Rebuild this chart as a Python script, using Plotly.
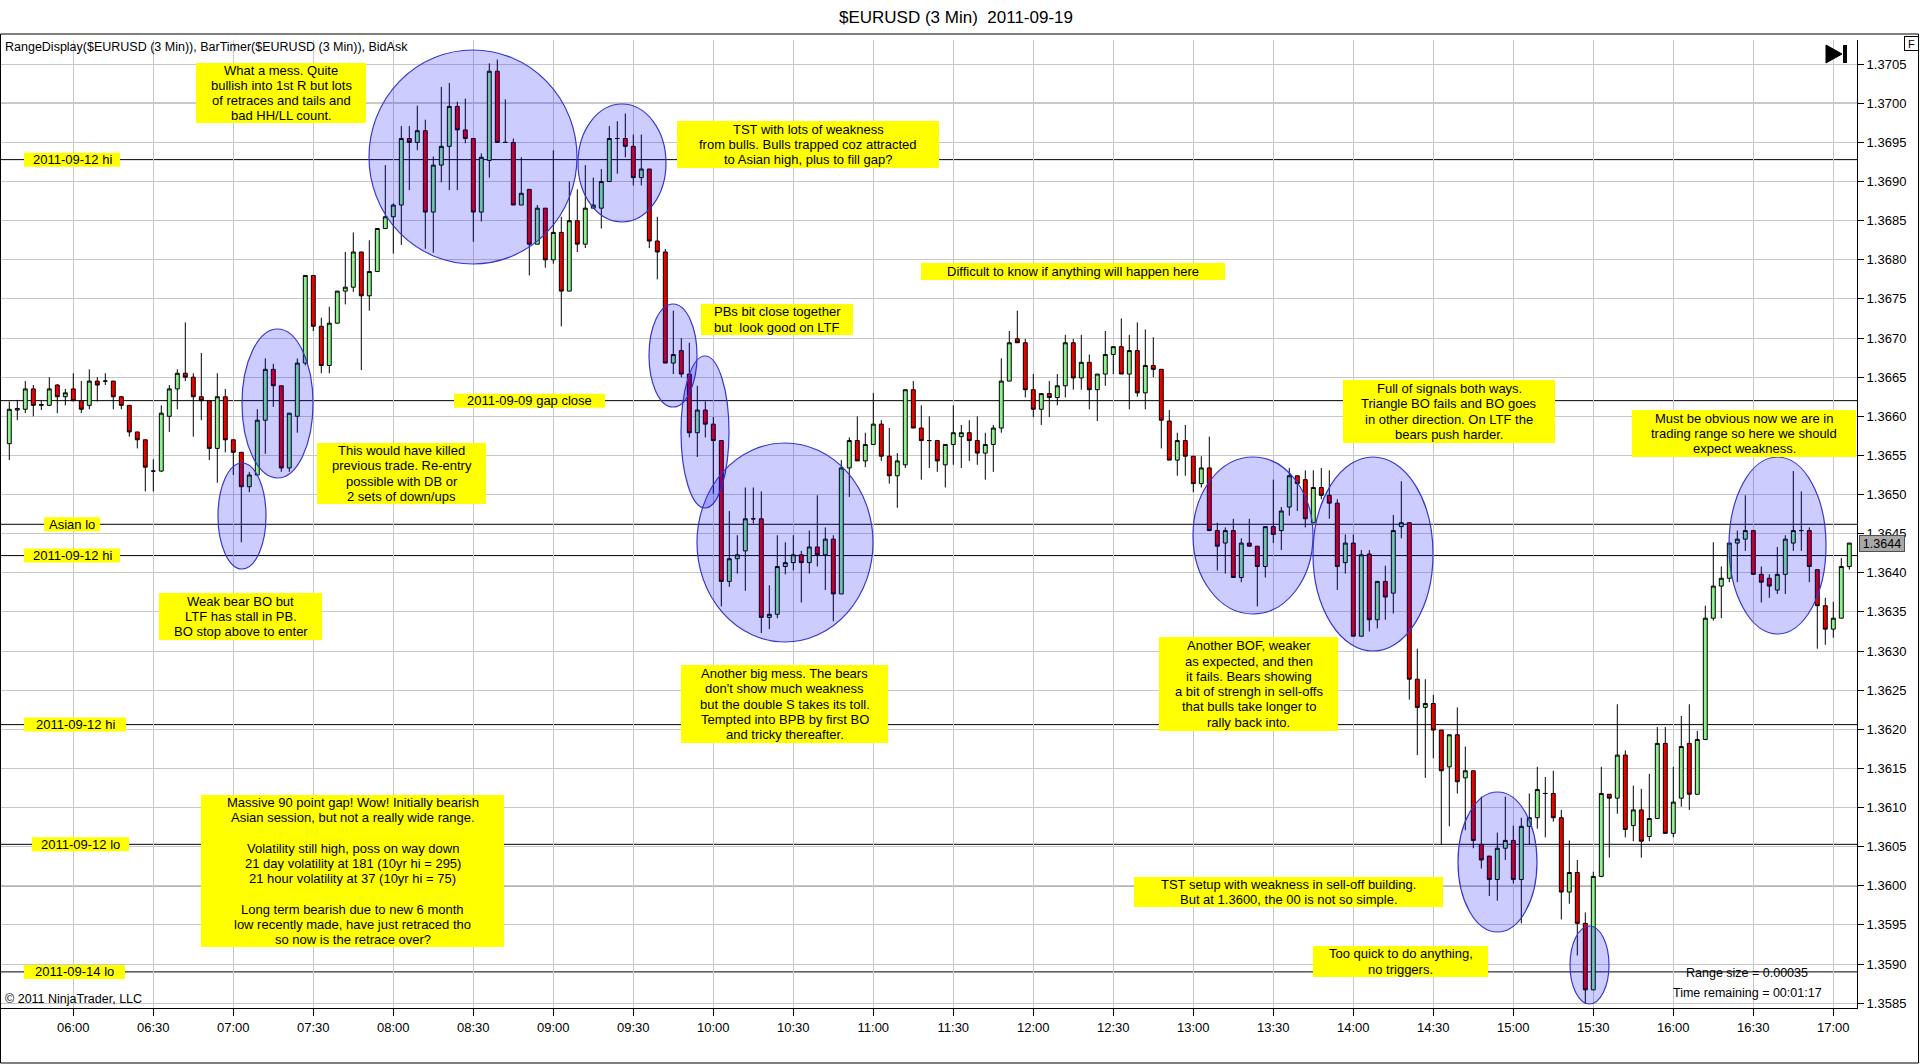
import pandas as pd
import plotly.graph_objects as go

# --- bar data, 3 min EURUSD (oldest first) ---
open_ = [
    1.36565, 1.36608, 1.36609, 1.36635, 1.36614, 1.36614, 1.36640, 1.36625, 1.36635, 1.36620,
    1.36614, 1.36645, 1.36645, 1.36645, 1.36625, 1.36614, 1.36580, 1.36570, 1.36530, 1.36530,
    1.36600, 1.36635, 1.36655, 1.36650, 1.36625, 1.36620, 1.36559, 1.36625, 1.36570, 1.36554,
    1.36510, 1.36525, 1.36595, 1.36660, 1.36639, 1.36534, 1.36600, 1.36668, 1.36780, 1.36715,
    1.36665, 1.36719, 1.36760, 1.36765, 1.36810, 1.36754, 1.36785, 1.36840, 1.36855, 1.36870,
    1.36955, 1.36950, 1.36965, 1.36861, 1.36921, 1.36945, 1.36996, 1.36966, 1.36955, 1.36861,
    1.36927, 1.37041, 1.36950, 1.36950, 1.36870, 1.36890, 1.36820, 1.36866, 1.36800, 1.36835,
    1.36760, 1.36850, 1.36820, 1.36866, 1.36866, 1.36900, 1.36955, 1.36955, 1.36945, 1.36905,
    1.36916, 1.36824, 1.36810, 1.36668, 1.36684, 1.36654, 1.36579, 1.36608, 1.36590, 1.36569,
    1.36389, 1.36418, 1.36428, 1.36469, 1.36469, 1.36343, 1.36347, 1.36408, 1.36413, 1.36423,
    1.36413, 1.36433, 1.36423, 1.36443, 1.36373, 1.36534, 1.36569, 1.36543, 1.36564, 1.36590,
    1.36549, 1.36524, 1.36538, 1.36634, 1.36585, 1.36569, 1.36569, 1.36538, 1.36564, 1.36574,
    1.36579, 1.36569, 1.36553, 1.36564, 1.36585, 1.36645, 1.36699, 1.36694, 1.36634, 1.36609,
    1.36629, 1.36624, 1.36639, 1.36694, 1.36649, 1.36669, 1.36634, 1.36654, 1.36679, 1.36689,
    1.36654, 1.36684, 1.36630, 1.36665, 1.36660, 1.36594, 1.36544, 1.36569, 1.36549, 1.36514,
    1.36534, 1.36454, 1.36438, 1.36454, 1.36394, 1.36438, 1.36434, 1.36408, 1.36459, 1.36454,
    1.36484, 1.36524, 1.36519, 1.36464, 1.36509, 1.36499, 1.36489, 1.36413, 1.36438, 1.36319,
    1.36424, 1.36340, 1.36389, 1.36374, 1.36459, 1.36464, 1.36264, 1.36228, 1.36233, 1.36199,
    1.36152, 1.36193, 1.36138, 1.36147, 1.36053, 1.36038, 1.36008, 1.36048, 1.36058, 1.36008,
    1.36076, 1.36087, 1.36118, 1.36118, 1.36087, 1.35992, 1.36017, 1.35952, 1.35867, 1.36012,
    1.36117, 1.36112, 1.36167, 1.36077, 1.36097, 1.36063, 1.36086, 1.36182, 1.36067, 1.36112,
    1.36182, 1.36117, 1.36187, 1.36342, 1.36383, 1.36393, 1.36438, 1.36443, 1.36454, 1.36398,
    1.36393, 1.36378, 1.36398, 1.36438, 1.36454, 1.36454, 1.36404, 1.36358, 1.36328, 1.36342,
    1.36408,
]
high_ = [
    1.36619, 1.36621, 1.36645, 1.36640, 1.36621, 1.36650, 1.36641, 1.36635, 1.36655, 1.36645,
    1.36660, 1.36650, 1.36655, 1.36645, 1.36626, 1.36614, 1.36580, 1.36570, 1.36545, 1.36614,
    1.36640, 1.36660, 1.36720, 1.36655, 1.36681, 1.36621, 1.36655, 1.36635, 1.36570, 1.36554,
    1.36529, 1.36609, 1.36674, 1.36667, 1.36639, 1.36604, 1.36674, 1.36780, 1.36780, 1.36726,
    1.36740, 1.36760, 1.36810, 1.36835, 1.36810, 1.36825, 1.36840, 1.36921, 1.36872, 1.36971,
    1.36971, 1.36997, 1.36979, 1.36932, 1.37021, 1.37026, 1.37002, 1.37006, 1.36955, 1.36936,
    1.37051, 1.37056, 1.37005, 1.36955, 1.36931, 1.36890, 1.36870, 1.36866, 1.36940, 1.36855,
    1.36900, 1.36890, 1.36921, 1.36905, 1.36916, 1.36971, 1.36977, 1.36987, 1.36960, 1.36960,
    1.36916, 1.36855, 1.36814, 1.36735, 1.36700, 1.36694, 1.36639, 1.36619, 1.36599, 1.36569,
    1.36479, 1.36448, 1.36509, 1.36509, 1.36504, 1.36384, 1.36448, 1.36439, 1.36448, 1.36428,
    1.36454, 1.36499, 1.36458, 1.36448, 1.36544, 1.36573, 1.36600, 1.36579, 1.36630, 1.36595,
    1.36585, 1.36553, 1.36634, 1.36645, 1.36614, 1.36600, 1.36569, 1.36564, 1.36614, 1.36589,
    1.36595, 1.36600, 1.36579, 1.36589, 1.36674, 1.36709, 1.36735, 1.36699, 1.36654, 1.36629,
    1.36645, 1.36654, 1.36704, 1.36699, 1.36704, 1.36679, 1.36654, 1.36709, 1.36689, 1.36725,
    1.36704, 1.36720, 1.36711, 1.36701, 1.36660, 1.36608, 1.36579, 1.36589, 1.36549, 1.36549,
    1.36574, 1.36464, 1.36458, 1.36469, 1.36444, 1.36469, 1.36434, 1.36459, 1.36519, 1.36484,
    1.36534, 1.36524, 1.36531, 1.36531, 1.36534, 1.36531, 1.36494, 1.36449, 1.36449, 1.36429,
    1.36429, 1.36389, 1.36409, 1.36474, 1.36517, 1.36464, 1.36303, 1.36264, 1.36244, 1.36199,
    1.36193, 1.36228, 1.36178, 1.36147, 1.36114, 1.36038, 1.36068, 1.36114, 1.36077, 1.36087,
    1.36118, 1.36152, 1.36139, 1.36147, 1.36097, 1.36058, 1.36033, 1.35966, 1.36018, 1.36152,
    1.36117, 1.36232, 1.36173, 1.36128, 1.36124, 1.36143, 1.36203, 1.36203, 1.36152, 1.36217,
    1.36232, 1.36198, 1.36358, 1.36439, 1.36408, 1.36438, 1.36454, 1.36499, 1.36454, 1.36408,
    1.36398, 1.36433, 1.36448, 1.36530, 1.36504, 1.36458, 1.36404, 1.36368, 1.36363, 1.36419,
    1.36438,
]
low_ = [
    1.36544, 1.36595, 1.36604, 1.36600, 1.36608, 1.36614, 1.36604, 1.36614, 1.36619, 1.36604,
    1.36609, 1.36619, 1.36640, 1.36609, 1.36609, 1.36574, 1.36559, 1.36504, 1.36504, 1.36529,
    1.36580, 1.36609, 1.36645, 1.36574, 1.36595, 1.36544, 1.36515, 1.36554, 1.36525, 1.36439,
    1.36503, 1.36524, 1.36552, 1.36612, 1.36529, 1.36529, 1.36579, 1.36665, 1.36709, 1.36655,
    1.36655, 1.36719, 1.36743, 1.36759, 1.36659, 1.36735, 1.36785, 1.36840, 1.36808, 1.36819,
    1.36889, 1.36940, 1.36814, 1.36809, 1.36899, 1.36889, 1.36889, 1.36949, 1.36823, 1.36849,
    1.36905, 1.36950, 1.36950, 1.36870, 1.36870, 1.36780, 1.36820, 1.36790, 1.36795, 1.36715,
    1.36760, 1.36810, 1.36815, 1.36866, 1.36840, 1.36900, 1.36910, 1.36931, 1.36895, 1.36895,
    1.36815, 1.36775, 1.36668, 1.36654, 1.36650, 1.36573, 1.36548, 1.36573, 1.36501, 1.36357,
    1.36382, 1.36399, 1.36377, 1.36463, 1.36323, 1.36328, 1.36342, 1.36398, 1.36403, 1.36362,
    1.36399, 1.36408, 1.36378, 1.36338, 1.36373, 1.36497, 1.36543, 1.36535, 1.36564, 1.36543,
    1.36514, 1.36483, 1.36534, 1.36585, 1.36519, 1.36534, 1.36529, 1.36509, 1.36538, 1.36534,
    1.36543, 1.36538, 1.36519, 1.36529, 1.36579, 1.36645, 1.36694, 1.36624, 1.36599, 1.36589,
    1.36599, 1.36614, 1.36624, 1.36634, 1.36634, 1.36609, 1.36594, 1.36639, 1.36654, 1.36654,
    1.36609, 1.36625, 1.36609, 1.36650, 1.36559, 1.36544, 1.36524, 1.36524, 1.36503, 1.36509,
    1.36454, 1.36403, 1.36399, 1.36394, 1.36388, 1.36434, 1.36357, 1.36394, 1.36438, 1.36429,
    1.36473, 1.36479, 1.36458, 1.36464, 1.36494, 1.36469, 1.36378, 1.36399, 1.36319, 1.36319,
    1.36325, 1.36329, 1.36340, 1.36348, 1.36444, 1.36238, 1.36167, 1.36138, 1.36163, 1.36053,
    1.36076, 1.36118, 1.36071, 1.36048, 1.36022, 1.35987, 1.35981, 1.36033, 1.36003, 1.35952,
    1.36053, 1.36073, 1.36062, 1.36082, 1.35957, 1.35977, 1.35911, 1.35849, 1.35867, 1.36012,
    1.36036, 1.36092, 1.36062, 1.36057, 1.36036, 1.36057, 1.36086, 1.36067, 1.36062, 1.36101,
    1.36097, 1.36117, 1.36187, 1.36339, 1.36342, 1.36388, 1.36388, 1.36428, 1.36398, 1.36362,
    1.36368, 1.36373, 1.36373, 1.36428, 1.36428, 1.36388, 1.36303, 1.36308, 1.36317, 1.36342,
    1.36404,
]
close_ = [
    1.36609, 1.36610, 1.36635, 1.36614, 1.36615, 1.36635, 1.36625, 1.36630, 1.36620, 1.36609,
    1.36645, 1.36640, 1.36645, 1.36625, 1.36614, 1.36580, 1.36570, 1.36535, 1.36530, 1.36604,
    1.36635, 1.36655, 1.36650, 1.36625, 1.36620, 1.36559, 1.36625, 1.36570, 1.36554, 1.36510,
    1.36525, 1.36595, 1.36660, 1.36639, 1.36534, 1.36604, 1.36668, 1.36780, 1.36715, 1.36665,
    1.36719, 1.36760, 1.36765, 1.36810, 1.36754, 1.36785, 1.36840, 1.36855, 1.36870, 1.36955,
    1.36950, 1.36965, 1.36861, 1.36921, 1.36945, 1.36996, 1.36966, 1.36955, 1.36861, 1.36931,
    1.37041, 1.36950, 1.36950, 1.36870, 1.36885, 1.36820, 1.36866, 1.36800, 1.36835, 1.36760,
    1.36850, 1.36820, 1.36866, 1.36870, 1.36900, 1.36955, 1.36955, 1.36945, 1.36905, 1.36916,
    1.36824, 1.36810, 1.36668, 1.36679, 1.36654, 1.36579, 1.36608, 1.36590, 1.36569, 1.36389,
    1.36418, 1.36423, 1.36469, 1.36469, 1.36343, 1.36347, 1.36408, 1.36413, 1.36423, 1.36413,
    1.36433, 1.36423, 1.36443, 1.36373, 1.36534, 1.36569, 1.36543, 1.36564, 1.36590, 1.36549,
    1.36524, 1.36543, 1.36634, 1.36585, 1.36569, 1.36569, 1.36543, 1.36564, 1.36579, 1.36579,
    1.36569, 1.36553, 1.36564, 1.36585, 1.36645, 1.36694, 1.36694, 1.36634, 1.36609, 1.36629,
    1.36624, 1.36639, 1.36694, 1.36649, 1.36669, 1.36634, 1.36654, 1.36679, 1.36689, 1.36654,
    1.36684, 1.36630, 1.36665, 1.36660, 1.36595, 1.36544, 1.36569, 1.36549, 1.36514, 1.36534,
    1.36454, 1.36434, 1.36454, 1.36394, 1.36438, 1.36434, 1.36408, 1.36459, 1.36449, 1.36479,
    1.36524, 1.36514, 1.36469, 1.36509, 1.36499, 1.36489, 1.36408, 1.36438, 1.36319, 1.36423,
    1.36340, 1.36389, 1.36369, 1.36454, 1.36464, 1.36264, 1.36228, 1.36233, 1.36199, 1.36147,
    1.36193, 1.36133, 1.36147, 1.36058, 1.36033, 1.36008, 1.36048, 1.36058, 1.36008, 1.36076,
    1.36087, 1.36123, 1.36118, 1.36087, 1.35992, 1.36017, 1.35952, 1.35867, 1.36012, 1.36118,
    1.36112, 1.36167, 1.36072, 1.36097, 1.36057, 1.36086, 1.36182, 1.36067, 1.36107, 1.36178,
    1.36117, 1.36187, 1.36342, 1.36383, 1.36393, 1.36438, 1.36443, 1.36454, 1.36398, 1.36388,
    1.36383, 1.36398, 1.36443, 1.36454, 1.36454, 1.36408, 1.36358, 1.36328, 1.36342, 1.36408,
    1.36438,
]
bar_times = pd.date_range("2011-09-19 05:36", periods=len(close_), freq="3min")

# horizontal reference levels drawn on the chart
level_prices = [1.37000, 1.36928, 1.36620, 1.36462, 1.36422, 1.36206, 1.36053, 1.36000, 1.35890]
level_labels = ["", "2011-09-12 hi", "2011-09-09 gap close", "Asian lo", "2011-09-12 hi",
                "2011-09-12 hi", "2011-09-12 lo", "", "2011-09-14 lo"]

W, H = 1920, 1064
PL, PR, PT, PB = 0, 1857, 40, 1008          # plot area in pixels
Y_TOP = 1.3700 + (103.3 - PT) / 78250
Y_BOT = 1.3700 - (PB - 103.3) / 78250
T0 = pd.Timestamp("2011-09-19 06:00")
X_LEFT = T0 + pd.Timedelta(minutes=(PL - 73.3) * 3 / 8)
X_RIGHT = T0 + pd.Timedelta(minutes=(PR - 73.3) * 3 / 8)

FONT = "Liberation Sans, Arial, sans-serif"


def fx(px):
    return (px - PL) / (PR - PL)


def fy(py):
    return 1 - (py - PT) / (PB - PT)


fig = go.Figure()
fig.add_trace(go.Candlestick(
    x=bar_times, open=open_, high=high_, low=low_, close=close_,
    increasing=dict(line=dict(color="black", width=1), fillcolor="#90EE90"),
    decreasing=dict(line=dict(color="black", width=1), fillcolor="#EE0000"),
    whiskerwidth=0, showlegend=False, hoverinfo="skip",
))

shapes = []
annotations = []

# level lines
for p in level_prices:
    shapes.append(dict(type="line", xref="paper", yref="y", x0=0, x1=1, y0=p, y1=p,
                       line=dict(color="black", width=1), layer="between"))

# marker ellipses (pixel boxes)
ellipses = [
    (369, 577, 50, 264), (578, 666, 104, 222), (242, 313, 329, 478), (218, 266, 463, 569),
    (649, 697, 304, 407), (681, 729, 356, 508), (697, 873, 443, 642), (1193, 1313, 457, 614),
    (1313, 1433, 457, 651), (1458, 1537, 792, 932), (1570, 1609, 926, 1004), (1729, 1826, 457, 634),
]
for x0, x1, y0, y1 in ellipses:
    shapes.append(dict(type="circle", xref="paper", yref="paper",
                       x0=fx(x0), x1=fx(x1), y0=fy(y1), y1=fy(y0),
                       fillcolor="rgba(0,0,255,0.2)", line=dict(color="rgb(55,55,205)", width=1.2),
                       layer="above"))

# level labels (yellow tags sitting on the lines)
label_spans = [None, (24, 120), (454, 605), (44, 100), (24, 120), (24, 126), (32, 129), None, (24, 125)]
for p, lab, span in zip(level_prices, level_labels, label_spans):
    if not lab:
        continue
    shapes.append(dict(type="rect", xref="paper", yref="y", ysizemode="pixel", yanchor=p,
                       x0=fx(span[0]), x1=fx(span[1]), y0=-7, y1=7,
                       fillcolor="#FFFF00", line=dict(width=0), layer="above"))
    annotations.append(dict(text=lab, xref="paper", yref="y", x=fx((span[0] + span[1]) / 2), y=p,
                            showarrow=False, xanchor="center", yanchor="middle",
                            font=dict(family=FONT, size=13, color="black")))

# note boxes
notes = [
    ("What a mess. Quite\nbullish into 1st R but lots\nof retraces and tails and\nbad HH/LL count.",
     196, 366, 63, 123),
    ("TST with lots of weakness\nfrom bulls. Bulls trapped coz attracted\nto Asian high, plus to fill gap?",
     677, 939, 121, 168),
    ("Difficult to know if anything will happen here", 921, 1225, 263, 280),
    ("PBs bit close together\nbut \u00a0look good on LTF", 701, 853, 304, 335),
    ("This would have killed\nprevious trade. Re-entry\npossible with DB or\n2 sets of down/ups",
     317, 486, 443, 504),
    ("Full of signals both ways.\nTriangle BO fails and BO goes\nin other direction. On LTF the\nbears push harder.",
     1343, 1555, 380, 443),
    ("Must be obvious now we are in\ntrading range so here we should\nexpect weakness.",
     1632, 1856, 410, 457),
    ("Weak bear BO but\nLTF has stall in PB.\nBO stop above to enter", 159, 322, 593, 640),
    ("Another big mess. The bears\ndon't show much weakness\nbut the double S takes its toll.\n"
     "Tempted into BPB by first BO\nand tricky thereafter.", 681, 888, 665, 743),
    ("Another BOF, weaker\nas expected, and then\nit fails. Bears showing\na bit of strengh in sell-offs\n"
     "that bulls take longer to\nrally back into.", 1159, 1338, 637, 731),
    ("Massive 90 point gap! Wow! Initially bearish\nAsian session, but not a really wide range.\n\n"
     "Volatility still high, poss on way down\n21 day volatility at 181 (10yr hi = 295)\n"
     "21 hour volatility at 37 (10yr hi = 75)\n\nLong term bearish due to new 6 month\n"
     "low recently made, have just retraced tho\nso now is the retrace over?", 201, 504, 795, 947),
    ("TST setup with weakness in sell-off building.\nBut at 1.3600, the 00 is not so simple.",
     1134, 1443, 877, 907),
    ("Too quick to do anything,\nno triggers.", 1313, 1488, 946, 977),
]
LINE_STEP = 15.3
for text, x0, x1, y0, y1 in notes:
    shapes.append(dict(type="rect", xref="paper", yref="paper", x0=fx(x0), x1=fx(x1),
                       y0=fy(y1), y1=fy(y0), fillcolor="#FFFF00", line=dict(width=0), layer="above"))
    lines = text.split("\n")
    cy = (y0 + y1) / 2
    for i, ln in enumerate(lines):
        if not ln:
            continue
        ly = cy + (i - (len(lines) - 1) / 2) * LINE_STEP
        annotations.append(dict(text=ln, xref="paper", yref="paper", x=fx((x0 + x1) / 2), y=fy(ly),
                                showarrow=False, xanchor="center", yanchor="middle",
                                font=dict(family=FONT, size=13, color="black")))

# outer panel frame
shapes.append(dict(type="rect", xref="paper", yref="paper", x0=fx(0.5), x1=fx(1918.5),
                   y0=fy(1063), y1=fy(34), line=dict(color="black", width=1), layer="above"))
# "go to last bar" icon
shapes.append(dict(type="path", xref="paper", yref="paper",
                   path="M %f,%f L %f,%f L %f,%f Z" % (fx(1826), fy(45), fx(1842), fy(54), fx(1826), fy(63)),
                   fillcolor="black", line=dict(color="black", width=1), layer="above"))
shapes.append(dict(type="rect", xref="paper", yref="paper", x0=fx(1843), x1=fx(1847),
                   y0=fy(63), y1=fy(45), fillcolor="black", line=dict(width=0), layer="above"))

# plain texts
annotations += [
    dict(text="$EURUSD (3 Min) \u00a02011-09-19", xref="paper", yref="paper", x=fx(956), y=fy(17),
         showarrow=False, xanchor="center", yanchor="middle",
         font=dict(family=FONT, size=17, color="black")),
    dict(text="RangeDisplay($EURUSD (3 Min)), BarTimer($EURUSD (3 Min)), BidAsk", xref="paper",
         yref="paper", x=fx(3), y=fy(47), showarrow=False, xanchor="left", yanchor="middle",
         font=dict(family=FONT, size=12.5, color="black")),
    dict(text="\u00a9 2011 NinjaTrader, LLC", xref="paper", yref="paper", x=fx(3), y=fy(999),
         showarrow=False, xanchor="left", yanchor="middle",
         font=dict(family=FONT, size=12.5, color="black")),
    dict(text="Range size = 0.00035", xref="paper", yref="paper", x=fx(1747), y=fy(973),
         showarrow=False, xanchor="center", yanchor="middle",
         font=dict(family=FONT, size=12.5, color="black")),
    dict(text="Time remaining = 00:01:17", xref="paper", yref="paper", x=fx(1747), y=fy(993),
         showarrow=False, xanchor="center", yanchor="middle",
         font=dict(family=FONT, size=12.5, color="black")),
    dict(text="F", xref="paper", yref="paper", x=fx(1911), y=fy(44), showarrow=False,
         xanchor="center", yanchor="middle", width=13, height=13, borderpad=0, borderwidth=1,
         bordercolor="black", bgcolor="white", font=dict(family=FONT, size=11, color="black")),
    dict(text="%.4f" % close_[-1], xref="paper", yref="y", x=fx(1882), y=close_[-1],
         showarrow=False, xanchor="center", yanchor="middle", width=44, height=15, borderpad=0,
         borderwidth=1, bordercolor="#505050", bgcolor="#A8A8A8",
         font=dict(family=FONT, size=12.5, color="black")),
]

fig.update_layout(
    width=W, height=H, autosize=False,
    margin=dict(l=PL, r=W - PR, t=PT, b=H - PB, pad=0),
    paper_bgcolor="white", plot_bgcolor="white",
    showlegend=False,
    shapes=shapes, annotations=annotations,
    xaxis=dict(
        type="date", range=[X_LEFT, X_RIGHT], rangeslider=dict(visible=False),
        tickformat="%H:%M", dtick=1800000, tick0="2011-09-19 06:00",
        ticks="outside", ticklen=7, tickcolor="black", showline=True, linecolor="black",
        showgrid=True, gridcolor="#C8C8C8", gridwidth=1, zeroline=False,
        tickfont=dict(family=FONT, size=13, color="black"),
    ),
    yaxis=dict(
        side="right", range=[Y_BOT, Y_TOP], dtick=0.0005, tick0=1.3585, tickformat=".4f",
        ticks="outside", ticklen=6, tickcolor="black", showline=True, linecolor="black",
        showgrid=True, gridcolor="#C8C8C8", gridwidth=1, zeroline=False,
        tickfont=dict(family=FONT, size=13, color="black"),
    ),
)

fig.write_html("out.html", config={"displayModeBar": False},
               post_script="document.body.style.margin='0';")
